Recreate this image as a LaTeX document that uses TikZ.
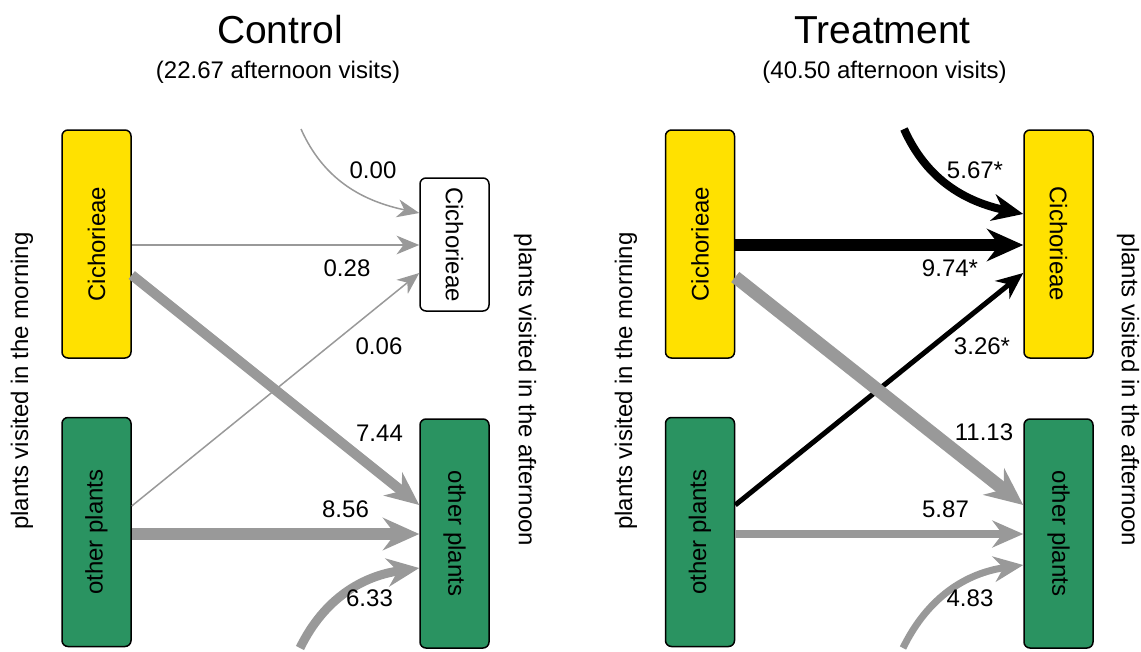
\documentclass[tikz,border=0pt]{standalone}
\usepackage{fontspec}
\setmainfont{Liberation Sans}
\usepackage{graphicx}
\usetikzlibrary{arrows.meta}
\definecolor{cyel}{HTML}{FFE100}
\definecolor{cgrn}{HTML}{2A9361}
\definecolor{cgry}{HTML}{999999}
\tikzset{
  box/.style={draw=black, line width=1.5pt, rounded corners=6pt, inner sep=0pt,
    minimum width=69pt, font=\fontsize{24}{28}\selectfont},
  yel/.style={box, fill=cyel, minimum height=228pt},
  grn/.style={box, fill=cgrn, minimum height=229pt},
  wht/.style={box, fill=white, minimum height=133pt},
  flow/.style={-{Stealth[length=20pt 1.35, width=16pt 1.35, inset=6pt 0.5]}},
  gflow/.style={flow, draw=cgry},
  bflow/.style={flow, draw=black},
  lab/.style={inner sep=0pt, font=\fontsize{24}{28}\selectfont},
  side/.style={inner sep=0pt, font=\fontsize{24}{28}\selectfont},
  ttl/.style={inner sep=0pt, anchor=base, font=\fontsize{39}{44}\selectfont},
  sub/.style={inner sep=0pt, anchor=base, font=\fontsize{24}{28}\selectfont},
}
\begin{document}
\begin{tikzpicture}[x=1pt, y=-1pt]
\useasboundingbox (0,0) rectangle (1141,651);
% ---------- Control ----------
\node[ttl] (cT) at (280,43) {Control};
\node[sub] (cS) at (278,78) {(22.67 afternoon visits)};
\node[side] (cM) at (22,381) {\rotatebox{90}{plants visited in the morning}};
\node[side] (cA) at (525,390) {\rotatebox{-90}{plants visited in the afternoon}};
\node[yel] (cL1) at (96.5,244) {\rotatebox{90}{Cichorieae}};
\node[grn] (cL2) at (96.5,532) {\rotatebox{90}{other plants}};
\node[wht] (cR1) at (454.5,244.5) {\rotatebox{-90}{Cichorieae}};
\node[grn] (cR2) at (454.5,533.5) {\rotatebox{-90}{other plants}};
\coordinate (cIn) at (301,129);
\coordinate (cIn2) at (300,648);
\draw[gflow, line width=1.5pt] (cIn) to[out=-66,in=168] ([yshift=31.5pt]cR1.west);
\draw[gflow, line width=2pt] ([yshift=-1pt]cL1.east) -- ([yshift=-1pt]cL1.east -| cR1.west);
\draw[gflow, line width=1.5pt] ([yshift=26pt]cL2.east) -- ([yshift=-28.5pt]cR1.west);
\draw[gflow, line width=10pt] ([yshift=-31pt]cL1.east) -- ([yshift=28.5pt]cR2.west);
\draw[gflow, line width=12pt] ([yshift=-2pt]cL2.east) -- ([yshift=-2pt]cL2.east -| cR2.west);
\draw[gflow, line width=9pt] (cIn2) to[out=64,in=188] ([yshift=-34.5pt]cR2.west);
\node[lab] (c1) at (373,170) {0.00};
\node[lab] (c2) at (347,268.5) {0.28};
\node[lab] (c3) at (379,346) {0.06};
\node[lab] (c4) at (379.5,433) {7.44};
\node[lab] (c5) at (345.5,509.5) {8.56};
\node[lab] (c6) at (369.5,598.5) {6.33};
% ---------- Treatment ----------
\node[ttl] (tT) at (882.5,43) {Treatment};
\node[sub] (tS) at (884.5,78) {(40.50 afternoon visits)};
\node[side] (tM) at (626,381) {\rotatebox{90}{plants visited in the morning}};
\node[side] (tA) at (1128,390) {\rotatebox{-90}{plants visited in the afternoon}};
\node[yel] (tL1) at (700,244) {\rotatebox{90}{Cichorieae}};
\node[grn] (tL2) at (700,532) {\rotatebox{90}{other plants}};
\node[yel] (tR1) at (1058.5,244) {\rotatebox{-90}{Cichorieae}};
\node[grn] (tR2) at (1058.5,533.5) {\rotatebox{-90}{other plants}};
\coordinate (tIn) at (904,129);
\coordinate (tIn2) at (903,648);
\draw[bflow, line width=8pt] (tIn) to[out=-66,in=168] ([yshift=30pt]tR1.west);
\draw[bflow, line width=12pt] ([yshift=-1pt]tL1.east) -- ([yshift=-1pt]tL1.east -| tR1.west);
\draw[bflow, line width=5pt] ([yshift=27pt]tL2.east) -- ([yshift=-29pt]tR1.west);
\draw[gflow, line width=13pt] ([yshift=-33pt]tL1.east) -- ([yshift=28.5pt]tR2.west);
\draw[gflow, line width=8pt] ([yshift=-2pt]tL2.east) -- ([yshift=-2pt]tL2.east -| tR2.west);
\draw[gflow, line width=7pt] (tIn2) to[out=64,in=188] ([yshift=-31.5pt]tR2.west);
\node[lab] (t1) at (975,170.5) {5.67*};
\node[lab] (t2) at (950,268.5) {9.74*};
\node[lab] (t3) at (982,346) {3.26*};
\node[lab] (t4) at (984,432.5) {11.13};
\node[lab] (t5) at (945.5,509.5) {5.87};
\node[lab] (t6) at (970,598.5) {4.83};
\end{tikzpicture}
\end{document}
